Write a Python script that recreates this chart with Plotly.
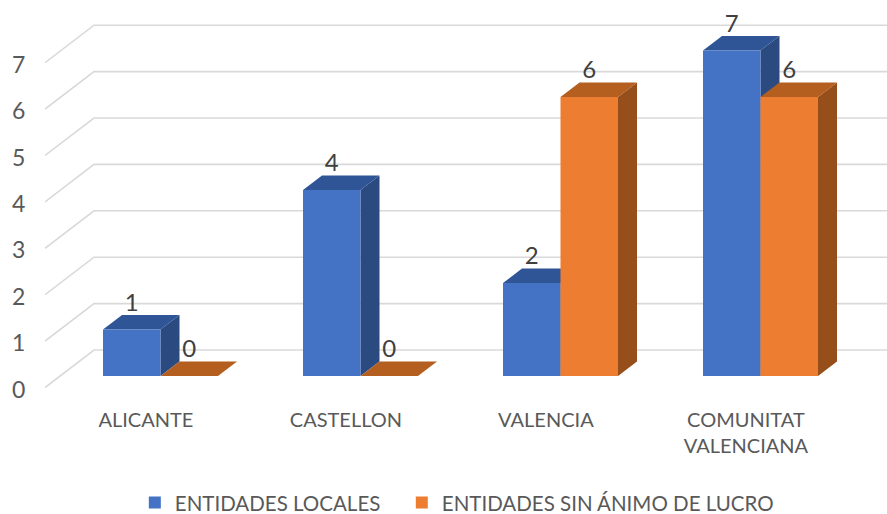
import plotly.graph_objects as go

categories = ["ALICANTE", "CASTELLON", "VALENCIA", "COMUNITAT<br>VALENCIANA"]
entidades_locales = [1, 4, 2, 7]
entidades_sin_animo = [0, 0, 6, 6]
value_ticks = [0, 1, 2, 3, 4, 5, 6, 7]

BLUE, BLUE_TOP, BLUE_SIDE = "#4472C4", "#2F5597", "#2A4A80"
ORANGE, ORANGE_TOP, ORANGE_SIDE = "#ED7D31", "#B45F1F", "#964F1A"
TEXT = "#595959"
FONT = "Lato"

BAR_W = 0.2875          # width of one bar in category units
DEPTH_X = 0.095         # bar depth, category units
DEPTH_Y = 0.312         # bar depth, value units
WALL_X = 0.245          # wall depth, category units
WALL_Y = 0.808          # wall depth, value units
X_RANGE = [-0.5775, 3.6325]
LABEL_SHIFT = 0.073
LABEL_RISE = 0.53

xs = list(range(len(categories)))


def faces(values, left_offset):
    top_x, top_y, side_x, side_y = [], [], [], []
    for x, v in zip(xs, values):
        l = x + left_offset
        r = l + BAR_W
        top_x += [l, r, r + DEPTH_X, l + DEPTH_X, l, None]
        top_y += [v, v, v + DEPTH_Y, v + DEPTH_Y, v, None]
        side_x += [r, r + DEPTH_X, r + DEPTH_X, r, r, None]
        side_y += [0, DEPTH_Y, v + DEPTH_Y, v, 0, None]
    return top_x, top_y, side_x, side_y


def polygon(px, py, color):
    return go.Scatter(x=px, y=py, mode="lines", fill="toself", fillcolor=color,
                      line=dict(width=0, color=color), hoverinfo="skip",
                      showlegend=False, xaxis="x", yaxis="y2")


fig = go.Figure()

# Back wall and side wall gridlines
for v in value_ticks:
    fig.add_trace(go.Scatter(
        x=[X_RANGE[0], X_RANGE[0] + WALL_X, X_RANGE[1]],
        y=[v, v + WALL_Y, v + WALL_Y],
        mode="lines", line=dict(color="#D9D9D9", width=1.6),
        hoverinfo="skip", showlegend=False, xaxis="x", yaxis="y"))

# Depth faces (behind the fronts)
bt_x, bt_y, bs_x, bs_y = faces(entidades_locales, -BAR_W)
ot_x, ot_y, os_x, os_y = faces(entidades_sin_animo, 0)
fig.add_trace(polygon(bs_x, bs_y, BLUE_SIDE))
fig.add_trace(polygon(bt_x, bt_y, BLUE_TOP))
fig.add_trace(polygon(os_x, os_y, ORANGE_SIDE))
fig.add_trace(polygon(ot_x, ot_y, ORANGE_TOP))

# Front faces
fig.add_trace(go.Bar(name="ENTIDADES LOCALES", x=xs, y=entidades_locales, legend="legend",
                     marker=dict(color=BLUE, line=dict(width=0)), xaxis="x", yaxis="y3"))
fig.add_trace(go.Bar(name="ENTIDADES SIN ÁNIMO DE LUCRO", x=xs, y=entidades_sin_animo, legend="legend2",
                     marker=dict(color=ORANGE, line=dict(width=0)), xaxis="x", yaxis="y3"))

# Value labels
for values, off in ((entidades_locales, -BAR_W / 2), (entidades_sin_animo, BAR_W / 2)):
    fig.add_trace(go.Scatter(
        x=[x + off for x in xs], y=[v + LABEL_RISE for v in values],
        text=[str(v) for v in values], mode="text", textposition="middle center",
        textfont=dict(family=FONT, size=24, color="#404040"),
        hoverinfo="skip", showlegend=False, xaxis="x", yaxis="y3"))

legend_font = dict(family=FONT, size=20.5, color=TEXT)
fig.update_layout(
    width=887, height=514,
    margin=dict(l=45, r=0, t=5, b=114),
    paper_bgcolor="white", plot_bgcolor="white",
    barmode="group", bargap=0.425, bargroupgap=0,
    font=dict(family=FONT, color=TEXT),
    showlegend=True,
    legend=dict(orientation="h", xref="container", x=0.152, xanchor="left",
                yref="container", y=0.022, yanchor="middle", font=legend_font, itemwidth=30),
    legend2=dict(orientation="h", xref="container", x=0.453, xanchor="left",
                 yref="container", y=0.022, yanchor="middle", font=legend_font, itemwidth=30),
    xaxis=dict(range=X_RANGE, tickmode="array",
               tickvals=[x - LABEL_SHIFT for x in xs], ticktext=categories,
               tickfont=dict(family=FONT, size=20, color=TEXT), tickangle=0,
               ticks="outside", ticklen=2, tickcolor="rgba(0,0,0,0)",
               showgrid=False, zeroline=False, showline=False),
    yaxis=dict(range=[-0.2694, 8.243], tickmode="array", tickvals=value_ticks,
               tickfont=dict(family=FONT, size=23, color=TEXT),
               ticks="outside", ticklen=14, tickcolor="rgba(0,0,0,0)",
               ticklabelshift=2,
               showgrid=False, zeroline=False, showline=False),
    yaxis2=dict(range=[-0.516, 7.978], overlaying="y", visible=False),
    yaxis3=dict(range=[-0.516, 7.978], overlaying="y", visible=False),
)

fig.write_html("out.html", config=dict(displayModeBar=False),
               post_script="document.body.style.margin='0';")
